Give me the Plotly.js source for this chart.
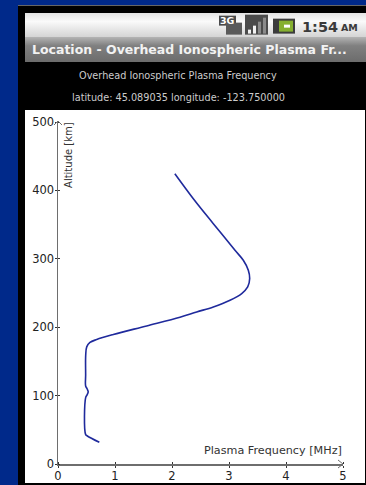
<!DOCTYPE html>
<html><head><meta charset="utf-8">
<script src="https://cdn.plot.ly/plotly-3.0.1.min.js"></script>
<style>
html,body{margin:0;padding:0;width:366px;height:485px;overflow:hidden;background:#00298a}
.c{position:absolute}
#plot{position:absolute;left:0;top:0;width:366px;height:485px}
</style></head><body>
<div class="c" style="left:18px;top:5px;width:348px;height:480px;background:#000;border-top:1px solid #666"></div>
<div class="c" style="left:25px;top:13px;width:341px;height:24px;background:linear-gradient(#e4e4e4,#fafafa 35%,#d4d4d4)"></div>
<div class="c" style="left:25px;top:37px;width:341px;height:25px;background:linear-gradient(#b4b4b4,#808080 35%,#6c6c6c)"></div>
<div class="c" style="left:25px;top:110px;width:340px;height:373px;background:#fff"></div>
<div id="plot"></div>
<script>
var frequencyMHz=[2.05,2.374,2.725,3.105,3.251,3.339,3.363,3.328,3.223,3.018,2.725,2.433,2.14,1.556,0.97,0.679,0.561,0.504,0.486,0.485,0.485,0.51,0.53,0.51,0.485,0.485,0.515,0.725];
var altitudeKm=[424.4,387.9,351.4,312.4,297.8,283.2,271.1,258.8,249.2,239.4,229.6,222.3,214.6,201.9,189.3,182,177.7,171.2,159,130,114,110,105.6,101,97,43,41,31.7];
var tickX=[0,1,2,3,4,5];
var tickY=[0,100,200,300,400,500];
var statusTime='1:54';
var statusPeriod='AM';
var networkLabel='3G';
var appTitle='Location - Overhead Ionospheric Plasma Fr...';
var chartTitle='Overhead Ionospheric Plasma Frequency';
var subTitle='latitude: 45.089035 longitude: -123.750000';
var xLabel='Plasma Frequency [MHz]';
var yLabel='Altitude [km]';

var axisColor='#6e6e6e';
var font='"DejaVu Sans", sans-serif';
var W=366,H=485,L=58,R=343,T=121.5,B=464;
function px(x){return (x-L)/(R-L);}
function py(y){return (B-y)/(B-T);}
function note(text,x,y,size,color,anchor,extra){
  var a={text:text,xref:'paper',yref:'paper',x:px(x),y:py(y),showarrow:false,
    font:{family:font,size:size,color:color},xanchor:anchor||'center',yanchor:'middle'};
  for(var k in extra)a[k]=extra[k];
  return a;
}
function box(x0,x1,y0,y1,color){
  return {type:'rect',xref:'paper',yref:'paper',x0:px(x0),x1:px(x1),y0:py(y0),y1:py(y1),fillcolor:color,line:{width:0},layer:'above'};
}
function axis(range,vals,lw){
  return {range:range,tickvals:vals,ticktext:vals.map(String),ticks:'outside',ticklen:2,tickcolor:'#333',tickwidth:1,
    ticklabelstandoff:-2,
    minor:{tickvals:vals,ticks:'inside',ticklen:2,tickcolor:'#333',tickwidth:1,showgrid:false},
    showgrid:false,zeroline:false,showline:true,linecolor:axisColor,linewidth:lw,fixedrange:true,
    tickfont:{family:font,size:11.5,color:'#222'}};
}
var layout={
  width:W,height:H,autosize:false,showlegend:false,
  paper_bgcolor:'rgba(0,0,0,0)',plot_bgcolor:'rgba(0,0,0,0)',
  margin:{l:L,r:W-R,t:T,b:H-B,pad:0},
  font:{family:font,size:11.5,color:'#222'},
  xaxis:axis([0,5],tickX,2),
  yaxis:axis([0,500],tickY,1.5),
  shapes:[
    {type:'path',xref:'paper',yref:'paper',xsizemode:'pixel',ysizemode:'pixel',xanchor:1,yanchor:0,
      path:'M -5 4 L 0 0 L -5 -4',line:{color:axisColor,width:1}},
    {type:'path',xref:'paper',yref:'paper',xsizemode:'pixel',ysizemode:'pixel',xanchor:0,yanchor:1,
      path:'M -4 -3 L 0 1 L 4 -3',line:{color:axisColor,width:1}},
    box(219,236,15,25,'#4a4a4a'), box(226,242,22,34,'#5a5a5a'),
    box(245,268,14,34,'#4a4a4a'),
    box(248,251,29,33,'#f2f2f2'), box(253,256,25,33,'#f2f2f2'), box(258,261,21,33,'#8a8a8a'), box(263,266,17,33,'#8a8a8a'),
    box(273,295,18,33,'#3c3c3c'), box(279,293,20,31,'#86b030'), box(284,290,24,27,'#ffffff')
  ],
  annotations:[
    note(networkLabel,227,20,9.5,'#fff','center',{font:{family:font,size:9.5,color:'#fff',weight:700}}),
    note(statusTime,320,26,16,'#3a3a3a','center',{font:{family:font,size:14.5,color:'#3a3a3a',weight:700}}),
    note(statusPeriod,349,27,9.5,'#3a3a3a','center',{font:{family:font,size:9.5,color:'#3a3a3a',weight:700}}),
    note(appTitle,30,49,12.5,'#f2f2f2','left',{font:{family:font,size:12.5,color:'#f2f2f2',weight:700}}),
    note(chartTitle,178,75,9.7,'#ccc','center'),
    note(subTitle,178,97,9.7,'#ccc','center'),
    note(xLabel,344,450,11.2,'#333','right'),
    note(yLabel,69,154.5,10,'#333','center',{textangle:-90})
  ]
};
var trace={x:frequencyMHz,y:altitudeKm,type:'scatter',mode:'lines',cliponaxis:false,
  line:{color:'#1f2a9c',width:1.6,shape:'spline',smoothing:1},hoverinfo:'skip'};
Plotly.newPlot('plot',[trace],layout,{displayModeBar:false,staticPlot:true});
</script>
</body></html>
